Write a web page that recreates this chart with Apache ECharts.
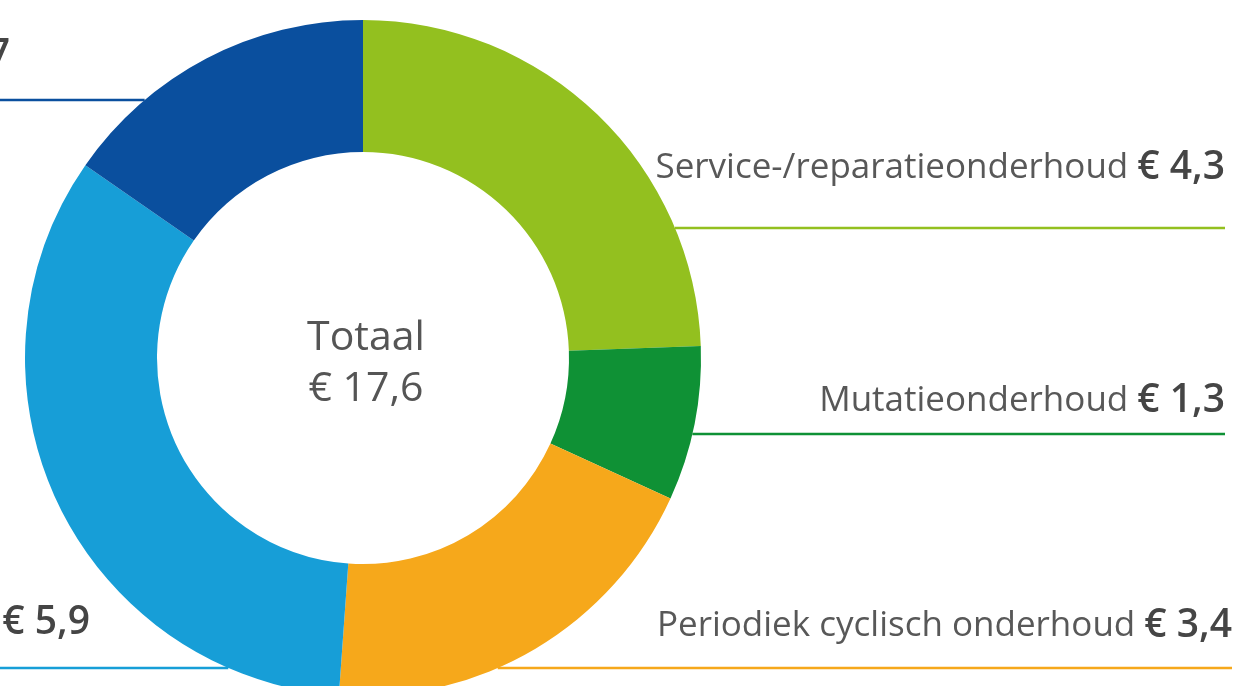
<!DOCTYPE html>
<html>
<head>
<meta charset="utf-8">
<script src="https://cdn.jsdelivr.net/npm/echarts@6/dist/echarts.min.js"></script>
<style>
  html, body { margin: 0; padding: 0; background: #fff; }
  #chart { width: 1235px; height: 686px; }
</style>
</head>
<body>
<div id="chart"></div>
<script>
// onderhoudskosten (mld euro), met de klok mee vanaf boven
const categories = ['Service-/reparatieonderhoud', 'Mutatieonderhoud', 'Periodiek cyclisch onderhoud', 'Planmatig onderhoud', 'Overig onderhoud'];
const values = [4.3, 1.3, 3.4, 5.9, 2.7];
const colors = ['#93c01f', '#0f9135', '#f6a81b', '#179ed7', '#0a4f9e'];
const totalLabel = 'Totaal';

const chart = echarts.init(document.getElementById('chart'));

// geometrie van de ring
const cx = 363, cy = 358, rOuter = 338, rInner = 206;
// plaats van labels (tekstmidden) en lijnen per segment
const labelLayouts = [
  {side: 'right', textY: 168, lineY: 228, edge: 1225},
  {side: 'right', textY: 401, lineY: 434, edge: 1225},
  {side: 'right', textY: 626, lineY: 668, edge: 1232},
  {side: 'left', textY: 623, lineY: 668, edge: 90},
  {side: 'left', textY: 56, lineY: 100, edge: 10}
];

function euro(v) {
  return '€ ' + v.toFixed(1).replace('.', ',');
}

const total = values.reduce(function (a, b) { return a + b; }, 0);

const option = {
  animation: false,
  graphic: [{
    type: 'text',
    x: cx + 3,
    y: cy + 6,
    style: {
      text: totalLabel + '\n' + euro(total),
      fontFamily: 'Open Sans',
      fontSize: 41,
      lineHeight: 51,
      fill: '#555',
      align: 'center',
      verticalAlign: 'middle'
    }
  }],
  series: [{
    type: 'pie',
    center: [cx, cy],
    radius: [rInner, rOuter],
    startAngle: 90,
    avoidLabelOverlap: false,
    silent: true,
    data: categories.map(function (name, i) {
      return {name: name, value: values[i], itemStyle: {color: colors[i]}};
    }),
    label: {
      show: true,
      formatter: function (p) {
        return '{n|' + p.name + ' }{v|' + euro(p.value) + '}';
      },
      rich: {
        n: {fontFamily: 'Open Sans', fontSize: 35, color: '#585858'},
        v: {fontFamily: 'Open Sans', fontSize: 39, fontWeight: 600, color: '#454545'}
      }
    },
    labelLine: {
      show: true,
      length: 0,
      length2: 0,
      lineStyle: {width: 2.5}
    },
    labelLayout: function (params) {
      const l = labelLayouts[params.dataIndex];
      const dx = Math.sqrt(rOuter * rOuter - (l.lineY - cy) * (l.lineY - cy));
      const start = l.side === 'right' ? cx + dx : cx - dx;
      const end = l.side === 'right' ? l.edge : 0;
      return {
        x: l.edge,
        y: l.textY,
        align: 'right',
        verticalAlign: 'middle',
        labelLinePoints: [[start, l.lineY], [(start + end) / 2, l.lineY], [end, l.lineY]]
      };
    }
  }]
};

chart.setOption(option);
</script>
</body>
</html>
